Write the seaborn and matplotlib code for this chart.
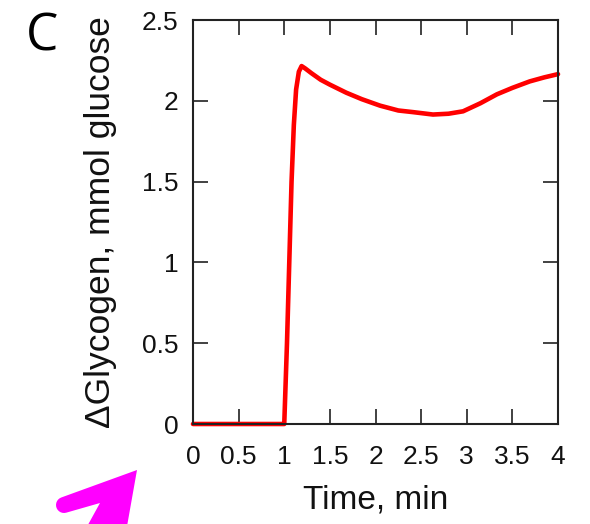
import matplotlib
matplotlib.use("Agg")
import matplotlib.pyplot as plt
from matplotlib.patches import Polygon
import seaborn as sns
import pandas as pd
import numpy as np

# data
time_min = [0.0, 0.5, 0.99, 1.0, 1.03, 1.055, 1.08, 1.105, 1.13, 1.16, 1.19, 1.23, 1.30,
            1.40, 1.50, 1.68, 1.85, 2.05, 2.25, 2.41, 2.63, 2.80, 2.96, 3.15, 3.33, 3.50,
            3.69, 3.85, 4.0]
glycogen = [0.0, 0.0, 0.0, 0.0, 0.5, 1.0, 1.5, 1.85, 2.07, 2.18, 2.215, 2.20, 2.17,
            2.13, 2.10, 2.05, 2.01, 1.97, 1.94, 1.93, 1.915, 1.92, 1.935, 1.985, 2.04,
            2.08, 2.12, 2.145, 2.165]
x_ticks = [0, 0.5, 1, 1.5, 2, 2.5, 3, 3.5, 4]
x_tick_labels = ["0", "0.5", "1", "1.5", "2", "2.5", "3", "3.5", "4"]
y_ticks = [0, 0.5, 1, 1.5, 2, 2.5]
y_tick_labels = ["0", "0.5", "1", "1.5", "2", "2.5"]

df = pd.DataFrame({"Time": time_min, "Glycogen": glycogen})

sns.set_style("ticks")
plt.rcParams["font.family"] = ["Liberation Sans", "DejaVu Sans"]

fig = plt.figure(figsize=(5.90, 5.24), dpi=100)
ax = fig.add_axes([193/590, 1 - 424/524, (558 - 193)/590, (424 - 20)/524])

sns.lineplot(data=df, x="Time", y="Glycogen", ax=ax, color="#ff0000", linewidth=3.3,
             sort=False, clip_on=False, zorder=1)
ax.lines[0].set_solid_joinstyle("round")

ax.set_xlim(0, 4)
ax.set_ylim(0, 2.5)
ax.set_xticks(x_ticks)
ax.set_xticklabels(x_tick_labels)
ax.set_yticks(y_ticks)
ax.set_yticklabels(y_tick_labels)
ax.tick_params(direction="in", length=11, width=1.3, color="#333333",
               top=True, right=True, labelsize=19, labelcolor="#111111")
ax.tick_params(axis="y", pad=10.5)
ax.tick_params(axis="x", pad=15)
for s in ax.spines.values():
    s.set_visible(True)
    s.set_linewidth(1.5)
    s.set_color("#222222")
    s.set_zorder(3)

ax.set_xlabel("Time, min", fontsize=24, color="#111111", labelpad=11)
ax.set_ylabel("\u0394Glycogen, mmol glucose", fontsize=25.5, color="#111111", labelpad=18)

fig.text(42/590, 1 - 37/524, "C", fontsize=37, family=["Open Sans", "DejaVu Sans"],
         ha="center", va="center", color="black")

# magenta arrow decoration (figure pixel coords)
def px(x, y):
    return (x / 590, 1 - y / 524)

cx, cy, r = 64.0, 505.0, 8.0
angs = np.deg2rad(np.linspace(251, 74.5, 14))
arc = [(cx + r*np.cos(a), cy + r*np.sin(a)) for a in angs]
arrow_pix = [(137, 470)] + arc + [(100, 503), (84, 532), (126, 532)]
fig.patches.append(Polygon([px(x, y) for x, y in arrow_pix], closed=True,
                           transform=fig.transFigure, facecolor="#ff00ff",
                           edgecolor="none", zorder=5))

fig.savefig("out.png", dpi=100)
